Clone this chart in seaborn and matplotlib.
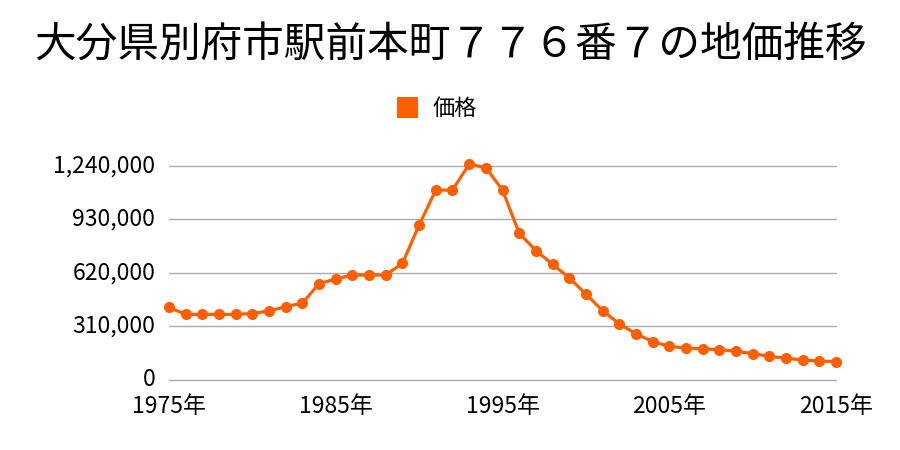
import matplotlib
matplotlib.use("Agg")
import matplotlib.pyplot as plt
import seaborn as sns
import pandas as pd
from matplotlib.patches import Rectangle

years = list(range(1975, 2016))
prices = [420000, 380000, 380000, 380000, 380000, 385000, 400000, 425000, 445000, 558000,
          585000, 608000, 608000, 608000, 676000, 898000, 1100000, 1100000, 1250000, 1230000,
          1100000, 850000, 750000, 670000, 592000, 497000, 402000, 325000, 268000, 222000,
          195000, 185000, 180000, 176000, 166000, 153000, 137000, 126000, 116000, 110000, 106000]
yticks = [0, 310000, 620000, 930000, 1240000]
xticks = [1975, 1985, 1995, 2005, 2015]
title = "大分県別府市駅前本町７７６番７の地価推移"
series_name = "価格"

sns.set_theme(style="white")
plt.rcParams['font.family'] = ['Noto Sans CJK JP', 'DejaVu Sans']

df = pd.DataFrame({"year": years, "price": prices})

fig = plt.figure(figsize=(9, 4.5), dpi=100)
ax = fig.add_axes([0.1878, 0.1556, 0.7411, 0.4987])
color = "#ff5f00"
sns.lineplot(data=df, x="year", y="price", ax=ax, color=color, linewidth=2.3,
             marker="o", markersize=8, markeredgewidth=0, label=series_name, legend=False)
for ln in ax.get_lines():
    ln.set_clip_on(False)
    ln.set_zorder(5)

ax.set_xlim(1975, 2015)
ax.set_ylim(0, 1300000)
ax.set_yticks(yticks)
ax.set_yticklabels([f"{v:,}" for v in yticks])
ax.set_xticks(xticks)
ax.set_xticklabels([f"{y}年" for y in xticks])
ax.tick_params(axis='both', labelsize=16.5, colors="#000000", length=0)
ax.tick_params(axis='y', pad=10)
ax.tick_params(axis='x', pad=11)
for lab in ax.get_yticklabels():
    lab.set_verticalalignment("center")
ax.grid(axis='y', color="#aaaaaa", linewidth=1.0)
ax.set_axisbelow(True)
for gl in ax.get_ygridlines():
    gl.set_clip_on(False)
for s in ax.spines.values():
    s.set_visible(False)
ax.set_xlabel("")
ax.set_ylabel("")

fig.text(0.5, 1 - 46/450, title, ha="center", va="center", fontsize=30, color="#000000")

fig.patches.append(Rectangle((397/900, 1-118/450), 21/900, 21/450, transform=fig.transFigure,
                             facecolor=color, edgecolor="none"))
fig.text(433/900, 1-108/450, series_name, ha="left", va="center", fontsize=16, color="#000000")

fig.savefig("out.png", dpi=100)
